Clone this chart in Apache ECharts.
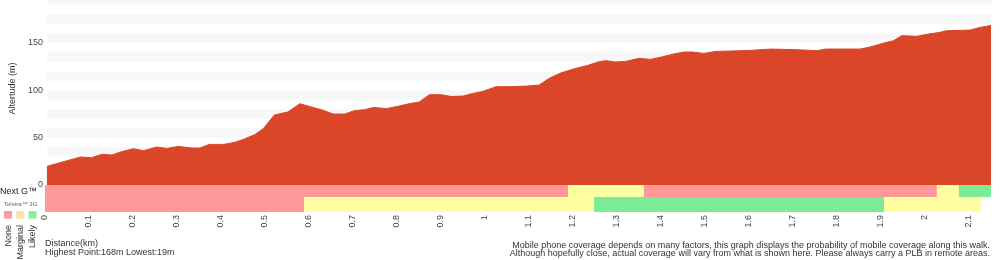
<!DOCTYPE html>
<html>
<head>
<meta charset="utf-8">
<title>Elevation profile</title>
<script src="https://cdn.jsdelivr.net/npm/echarts@6/dist/echarts.min.js"></script>
<style>
  html, body { margin: 0; padding: 0; background: #fff; }
  #chart { width: 1000px; height: 260px; }
</style>
</head>
<body>
<div id="chart"></div>
<script>
// distance along the walk (km) and altitude (m)
var distKm = [0, 0.076, 0.102, 0.125, 0.148, 0.170, 0.197, 0.220, 0.250, 0.273, 0.299, 0.330, 0.348, 0.370,
    0.402, 0.427, 0.450, 0.473, 0.492, 0.518, 0.549, 0.576, 0.602, 0.625, 0.652, 0.678, 0.700, 0.723,
    0.745, 0.773, 0.799, 0.822, 0.848, 0.871, 0.898, 0.920, 0.947, 0.970, 0.992, 1.023, 1.049, 1.095,
    1.121, 1.144, 1.170, 1.201, 1.231, 1.258, 1.273, 1.295, 1.318, 1.348, 1.375, 1.402, 1.428, 1.451,
    1.470, 1.496, 1.523, 1.557, 1.602, 1.648, 1.708, 1.754, 1.773, 1.852, 1.875, 1.898, 1.928, 1.947,
    1.981, 2.004, 2.034, 2.049, 2.102, 2.125, 2.15];
var altitude = [19.6, 29.5, 28.8, 32.3, 31.6, 35.1, 38.3, 36.2, 40, 38.6, 40.7, 39, 39, 42.8,
    42.8, 44.9, 48.5, 53, 59, 73.8, 77, 85.7, 82.2, 79.4, 74.8, 74.8, 78.3, 79.4,
    81.8, 80.4, 82.9, 85.4, 87.5, 95.2, 95.2, 93.3, 93.7, 96.5, 98.6, 103.6, 103.6, 104.3,
    105.4, 112.4, 118, 122.5, 126, 130, 131, 129.6, 130.3, 133.5, 132.4, 135.2, 138.1, 140.2,
    140.2, 138.7, 140.8, 141.2, 141.9, 143.3, 142.6, 141.6, 143.3, 143.3, 145.5, 148.6, 152.1, 157.4,
    156.7, 158.8, 160.9, 162.6, 163.3, 166.1, 168.2];

// coverage segments, level: 0 none, 1 marginal, 2 likely
var nextGStart = [0, 1.189, 1.361, 2.027, 2.077];
var nextGEnd   = [1.189, 1.361, 2.027, 2.077, 2.15];
var nextGLevel = [0, 1, 0, 1, 2];
var g3Start = [0, 0.589, 1.248, 1.907];
var g3End   = [0.589, 1.248, 1.907, 2.127];
var g3Level = [0, 1, 2, 1];

var levelNames = ['None', 'Marginal', 'Likely'];
var altLabels = [0, 50, 100, 150];
var highestPoint = 168, lowestPoint = 19;

var FONT = '"Liberation Sans", Arial, Helvetica, sans-serif';
var coverColors = ['#ff9999', '#ffffa2', '#7ceb97'];
var legendColors = ['#ff9c9c', '#ffdfa6', '#88ee99'];

function toPairs(xs, ys) {
    var out = [];
    for (var i = 0; i < xs.length; i++) {
        out.push([xs[i], ys[i]]);
    }
    return out;
}

function toSegments(s, e, lv) {
    var out = [];
    for (var i = 0; i < s.length; i++) {
        out.push([s[i], e[i], lv[i]]);
    }
    return out;
}

// one rect per coverage segment, filling the row's grid height
function renderCover(params, api) {
    var a = api.coord([api.value(0), 0]);
    var b = api.coord([api.value(1), 0]);
    var cs = params.coordSys;
    return {
        type: 'rect',
        shape: { x: a[0], y: cs.y, width: b[0] - a[0], height: cs.height },
        style: { fill: coverColors[api.value(2)] }
    };
}

var graphics = [
    { type: 'text', x: 0, y: 191.5, style: { text: 'Next G™', font: '9px ' + FONT, fill: '#222', verticalAlign: 'middle' } },
    { type: 'text', x: 4, y: 204, style: { text: 'Telstra™ 3G', font: '6px ' + FONT, fill: '#666', verticalAlign: 'middle' } },
    { type: 'text', x: 45, y: 243.5, style: { text: 'Distance(km)', font: '9px ' + FONT, fill: '#333', verticalAlign: 'middle' } },
    { type: 'text', x: 45, y: 252.5, style: { text: 'Highest Point:' + highestPoint + 'm Lowest:' + lowestPoint + 'm', font: '9px ' + FONT, fill: '#333', verticalAlign: 'middle' } },
    { type: 'text', x: 990, y: 245.5, style: { text: 'Mobile phone coverage depends on many factors, this graph displays the probability of mobile coverage along this walk.', font: '9px ' + FONT, fill: '#333', align: 'right', verticalAlign: 'middle' } },
    { type: 'text', x: 990, y: 254, style: { text: 'Although hopefully close, actual coverage will vary from what is shown here. Please always carry a PLB in remote areas.', font: '9px ' + FONT, fill: '#333', align: 'right', verticalAlign: 'middle' } }
];
for (var k = 0; k < levelNames.length; k++) {
    graphics.push({ type: 'rect', shape: { x: 4 + k * 12.3, y: 211, width: 8, height: 7.5 }, style: { fill: legendColors[k] } });
    graphics.push({
        type: 'text', x: 8.3 + k * 12.2, y: 225, rotation: Math.PI / 2,
        style: { text: levelNames[k], font: '9px ' + FONT, fill: '#333', align: 'right', verticalAlign: 'middle' }
    });
}

var myChart = echarts.init(document.getElementById('chart'), null, { renderer: 'canvas' });

var option = {
    animation: false,
    grid: [
        { left: 45, right: 9, top: 0, height: 185 },
        { left: 45, right: 9, top: 185, height: 12 },
        { left: 45, right: 9, top: 197, height: 15 }
    ],
    xAxis: [
        { gridIndex: 0, type: 'value', min: 0, max: 2.15, show: false },
        { gridIndex: 1, type: 'value', min: 0, max: 2.15, show: false },
        {
            gridIndex: 2, type: 'value', min: 0, max: 2.15, interval: 0.1,
            axisLine: { show: false }, axisTick: { show: false }, splitLine: { show: false },
            axisLabel: { rotate: 90, margin: 3, fontSize: 9, fontFamily: FONT, color: '#444', showMaxLabel: false }
        }
    ],
    yAxis: [
        {
            gridIndex: 0, type: 'value', min: 0, max: 195, interval: 10,
            name: 'Altertude (m)', nameLocation: 'middle', nameGap: 25,
            nameTextStyle: { fontSize: 9, fontFamily: FONT, color: '#333', padding: [0, 0, 0, 8] },
            axisLine: { show: false }, axisTick: { show: false }, splitLine: { show: false },
            splitArea: { show: true, areaStyle: { color: ['#ffffff', '#f7f7f7'] } },
            axisLabel: {
                margin: 4, fontSize: 9, fontFamily: FONT, color: '#444',
                formatter: function (v) { return altLabels.indexOf(v) > -1 ? String(v) : ''; }
            }
        },
        { gridIndex: 1, type: 'value', min: 0, max: 1, show: false },
        { gridIndex: 2, type: 'value', min: 0, max: 1, show: false }
    ],
    graphic: graphics,
    series: [
        {
            type: 'line', xAxisIndex: 0, yAxisIndex: 0,
            data: toPairs(distKm, altitude),
            showSymbol: false, silent: true,
            lineStyle: { color: '#da4627', width: 1 },
            areaStyle: { color: '#da4627', opacity: 1 }
        },
        {
            type: 'custom', xAxisIndex: 1, yAxisIndex: 1, silent: true,
            renderItem: renderCover, encode: { x: [0, 1] },
            data: toSegments(nextGStart, nextGEnd, nextGLevel)
        },
        {
            type: 'custom', xAxisIndex: 2, yAxisIndex: 2, silent: true,
            renderItem: renderCover, encode: { x: [0, 1] },
            data: toSegments(g3Start, g3End, g3Level)
        }
    ]
};

myChart.setOption(option);
window.onresize = myChart.resize;
</script>
</body>
</html>
